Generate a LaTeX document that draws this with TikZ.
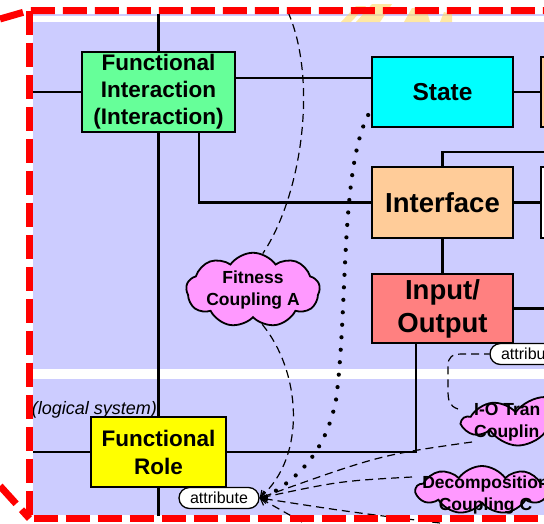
\documentclass[tikz,border=0pt]{standalone}
\usepackage{fontspec}
\setmainfont{Liberation Sans}
\usetikzlibrary{shapes.symbols,arrows.meta}
\definecolor{lav}{HTML}{CCCCFF}
\definecolor{figreen}{HTML}{66FF99}
\definecolor{stcyan}{HTML}{00FFFF}
\definecolor{ifpeach}{HTML}{FFCC99}
\definecolor{iored}{HTML}{FF8080}
\definecolor{fryel}{HTML}{FFFF00}
\definecolor{cloudpink}{HTML}{FF99FF}
\definecolor{faintyel}{HTML}{FFD966}
\begin{document}
\begin{tikzpicture}[x=1pt,y=-1pt,
  box/.style={draw=black, line width=1.7pt, inner sep=0pt, align=center},
  wire/.style={draw=black, line width=2.2pt},
  cpl/.style={cloud, cloud puffs=9, cloud puff arc=110, cloud ignores aspect, draw=black, line width=1.8pt, fill=cloudpink, inner sep=0pt, align=center, font=\bfseries\fontsize{17.5}{22}\selectfont},
  cpltext/.style={font=\bfseries\fontsize{17.5}{22}\selectfont, inner sep=0pt},
  dsh/.style={draw=black, line width=1.2pt, dash pattern=on 8pt off 5pt},
  dotline/.style={draw=black, line width=4.2pt, line cap=round, dash pattern=on 0pt off 12.5pt},
  attr/.style={draw=black, line width=1.3pt, fill=white, rounded corners=10.5pt, minimum width=80pt, minimum height=21pt, inner sep=0pt, font=\fontsize{16}{18}\selectfont},
  tip/.style={-{Straight Barb[length=6pt,width=9pt,line width=1.2pt]}},
  redb/.style={draw=red, line width=7pt, dash pattern=on 24pt off 8pt}
]
\useasboundingbox (0,0) rectangle (544,523);
\clip (0,0) rectangle (544,523);
% backgrounds
\fill[lav] (33,14) rectangle (544,369);
\fill[white] (33,16) rectangle (544,22);
\fill[lav] (33,379) rectangle (544,515);
% faint yellow shapes at top
\fill[faintyel, opacity=0.6] (341,22) -- (356,6) -- (366,6) -- (351,22) -- cycle;
\fill[faintyel, opacity=0.6] (356,22) -- (372,4) -- (392,4) -- (380,22) -- cycle;
\fill[faintyel, opacity=0.6] (404,22) -- (412,8) -- (426,8) -- (430,22) -- cycle;
\fill[faintyel, opacity=0.6] (440,22) -- (444,12) -- (452,14) -- (452,22) -- cycle;
% boxes
\node[box, fill=figreen, minimum width=153pt, minimum height=80pt, font=\bfseries\fontsize{22.5}{27}\selectfont] (fi) at (158.5,92) {Functional\\Interaction\\(Interaction)};
\node[box, fill=stcyan, minimum width=141pt, minimum height=70pt, font=\bfseries\fontsize{24.5}{29}\selectfont] (st) at (442.5,92) {State};
\node[box, fill=ifpeach, minimum width=141pt, minimum height=71pt, font=\bfseries\fontsize{27.5}{32}\selectfont] (itf) at (442.5,202.5) {Interface};
\node[box, fill=iored, minimum width=141pt, minimum height=69pt, font=\bfseries\fontsize{27.5}{33}\selectfont] (io) at (442.5,308.5) {Input/\\Output};
\node[box, fill=fryel, minimum width=135pt, minimum height=70pt, font=\bfseries\fontsize{22.5}{28}\selectfont] (fr) at (158.5,452) {Functional\\Role};
\node[box, fill=ifpeach, minimum width=60pt, minimum height=70pt] (rb1) at (571,92) {};
\node[box, fill=white, minimum width=60pt, minimum height=71pt] (rb2) at (571,202.5) {};
\node[anchor=east, inner sep=0pt, font=\itshape\fontsize{18}{20}\selectfont] (ls) at (157,410) {(logical system)};
% wire end points
\coordinate (topv) at (158.5,14);
\coordinate (leftA) at (33,92);
\coordinate (leftB) at (33,452);
\coordinate (botv) at (158.5,516);
\coordinate (rt1) at (546,152);
\coordinate (rt2) at (546,308.5);
% wires
\draw[wire] (topv) -- (fi.north);
\draw[wire] (leftA) -- (fi.west);
\draw[wire] ([yshift=14pt]fi.east) -- ([yshift=14pt]fi.east -| st.west);
\draw[wire] ([xshift=40.5pt]fi.south) |- (itf.west);
\draw[wire] (st.east) -- (rb1.west);
\draw[wire] (itf.north) |- (rt1);
\draw[wire] (itf.east) -- (rb2.west);
\draw[wire] (itf.south) -- (io.north);
\draw[wire] (io.east) -- (rt2);
\draw[wire] ([xshift=-26.5pt]io.south) |- (fr.east);
\draw[wire] (leftB) -- (fr.west);
\draw[wire] (fi.south) -- (fr.north);
\draw[wire] (fr.south) -- (botv);
% clouds
\node[cpl, minimum width=122pt, minimum height=46pt] (fit) at (253,290) {Fitness\\Coupling A};
\node[cpl, minimum width=165pt, minimum height=50pt] (ioc) at (545,422) {};
\node[cpltext, anchor=west, align=left] (ioct) at (474,422) {I-O Tran\\Couplin};
\node[cpl, minimum width=132pt, minimum height=48pt] (dc) at (482,490) {};
\node[cpltext, align=center] (dct) at (485.5,495.5) {Decomposition\\Coupling C};
% attributes
\node[attr] (at1) at (219,498) {attribute};
\node[attr] (at2) at (530,354) {attribute};
% connectors
\coordinate (topsrc) at (288,12);
\coordinate (offA) at (440,523);
\coordinate (offB) at (302,522);
\draw[dsh] (topsrc) .. controls (318,80) and (302,195) .. (fit.75);
\draw[dsh, tip] (fit.285) .. controls (300,370) and (308,455) .. (at1.east);
\draw[dotline] ([xshift=-3pt,yshift=-23pt]st.west) .. controls (340,170) and (348,310) .. (336,400) .. controls (326,450) and (300,478) .. ([xshift=4pt]at1.east);
\draw[tip] ([xshift=6pt,yshift=3pt]at1.east) -- (at1.east);
\draw[dsh, tip] ([xshift=-73pt,yshift=-20pt]ioc.center) .. controls (380,455) .. (at1.east);
\draw[dsh, tip] ([xshift=-70pt,yshift=13pt]dc.center) .. controls (340,481) .. (at1.east);
\draw[dsh, tip] (offA) .. controls (350,512) .. (at1.east);
\draw[dsh, tip] (offB) -- (at1.east);
\draw[dsh] ([xshift=-87pt,yshift=13pt]ioc.center) .. controls (449,406) and (448,400) .. (448,390) -- (448,366) .. controls (448,357) and (452,354) .. (462,354) -- (at2.west);
% red dashed border
\draw[redb] (0,19) -- (29.5,10.5) -- (560,10.5);
\draw[redb] (29.5,10.5) -- (29.5,518.5) -- (560,518.5);
\draw[redb] (0,486) -- (29.5,518.5);
\end{tikzpicture}
\end{document}
